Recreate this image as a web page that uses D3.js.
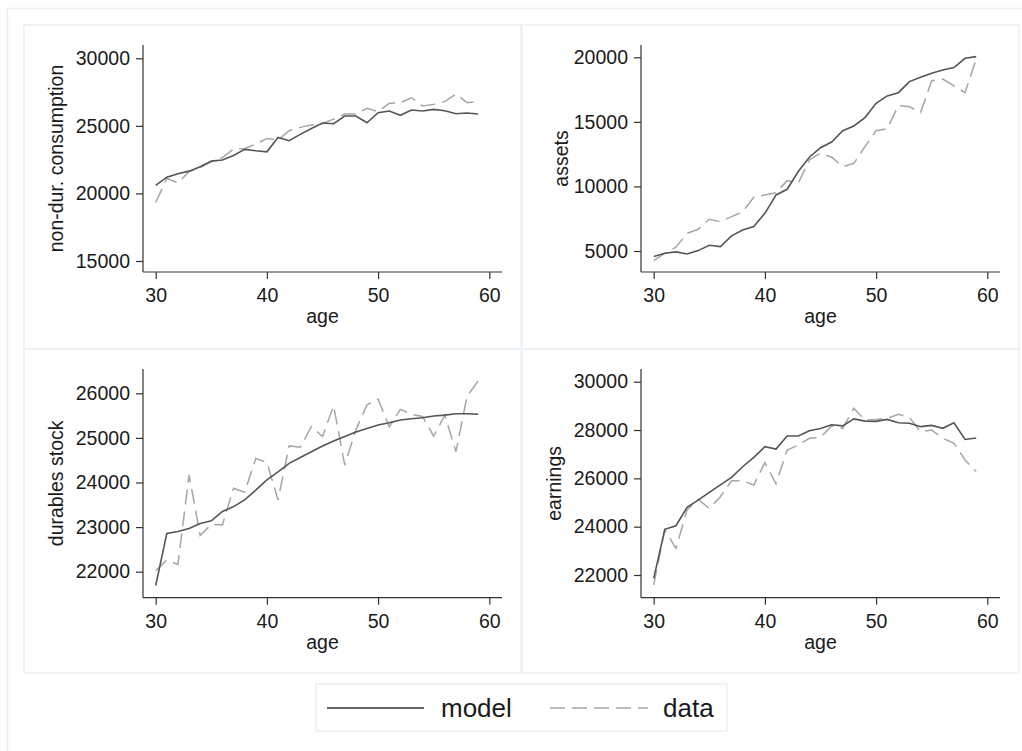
<!DOCTYPE html>
<html>
<head>
<meta charset="utf-8">
<script src="https://cdn.jsdelivr.net/npm/d3@7"></script>
<style>
  html, body { margin: 0; padding: 0; background: #ffffff; }
  svg { display: block; font-family: "Liberation Sans", Arial, sans-serif; }
</style>
</head>
<body>
<svg id="chart" width="1022" height="751"></svg>
<script>
// Life-cycle profiles by age: model vs data
const ages = d3.range(30, 60);
const xTicks = [30, 40, 50, 60];

const consumptionModel = [20600, 21200, 21450, 21650, 21970, 22390, 22470, 22810, 23260, 23160,
  23080, 24140, 23900, 24370, 24810, 25210, 25160, 25730, 25730, 25230,
  25970, 26100, 25780, 26170, 26100, 26220, 26120, 25900, 25950, 25880];
const consumptionData = [19330, 21110, 20790, 21600, 21920, 22340, 22660, 23280, 23330, 23650,
  24070, 23950, 24640, 24890, 25060, 25180, 25500, 25870, 25870, 26300,
  26050, 26670, 26720, 27080, 26470, 26590, 26790, 27360, 26720, 26790];

const assetsModel = [4570, 4820, 4930, 4770, 5030, 5440, 5340, 6170, 6630, 6890,
  7920, 9340, 9780, 11150, 12260, 13000, 13440, 14320, 14680, 15330,
  16440, 17010, 17260, 18120, 18450, 18760, 19020, 19200, 19920, 20050];
const assetsData = [4260, 4820, 5290, 6370, 6680, 7460, 7280, 7660, 8050, 9160,
  9340, 9520, 10450, 10240, 12050, 12570, 12260, 11530, 11790, 13080,
  14320, 14480, 16260, 16180, 15720, 18190, 18320, 17780, 17260, 19870];

const durablesModel = [21690, 22860, 22900, 22970, 23080, 23140, 23350, 23460, 23610, 23830,
  24060, 24240, 24430, 24560, 24690, 24820, 24930, 25030, 25130, 25210,
  25290, 25340, 25400, 25430, 25450, 25490, 25510, 25540, 25540, 25530];
const durablesData = [22020, 22260, 22160, 24170, 22810, 23060, 23050, 23870, 23780, 24540,
  24450, 23610, 24820, 24790, 25250, 25030, 25720, 24390, 25180, 25740,
  25870, 25250, 25640, 25530, 25480, 25040, 25510, 24690, 25930, 26280];

const earningsModel = [21860, 23890, 24040, 24800, 25100, 25420, 25730, 26040, 26480, 26870,
  27310, 27210, 27750, 27750, 27970, 28060, 28220, 28170, 28460, 28370,
  28360, 28440, 28300, 28280, 28140, 28190, 28070, 28300, 27610, 27670];
const earningsData = [21590, 23870, 23100, 24690, 25130, 24760, 25240, 25900, 25900, 25720,
  26650, 25770, 27170, 27380, 27660, 27700, 28170, 28070, 28900, 28410,
  28440, 28480, 28650, 28520, 27930, 28000, 27660, 27450, 26760, 26280];

const consumptionTicks = [15000, 20000, 25000, 30000];
const assetsTicks = [5000, 10000, 15000, 20000];
const durablesTicks = [22000, 23000, 24000, 25000, 26000];
const earningsTicks = [22000, 24000, 26000, 28000, 30000];

const seriesNames = ["model", "data"];

// panel layout: column/row, where first and last y ticks sit, y-title offset from axis
const panels = [
  { label: "non-dur. consumption", model: consumptionModel, data: consumptionData, ticks: consumptionTicks, col: 0, row: 0, yLo: 261, yHi: 58.3, titleDx: 80 },
  { label: "assets", model: assetsModel, data: assetsData, ticks: assetsTicks, col: 1, row: 0, yLo: 251, yHi: 57.3, titleDx: 73 },
  { label: "durables stock", model: durablesModel, data: durablesData, ticks: durablesTicks, col: 0, row: 1, yLo: 571.7, yHi: 393.3, titleDx: 80 },
  { label: "earnings", model: earningsModel, data: earningsData, ticks: earningsTicks, col: 1, row: 1, yLo: 575, yHi: 381.7, titleDx: 80 }
];

const svg = d3.select("#chart");
const frameColor = "#eaf0f3";
const axisColor = "#333333";
const textColor = "#1a1a1a";
const modelColor = "#555555";
const dataColor = "#a6a6a6";
const dash = "15,7";

// outer frame
svg.append("rect").attr("x", 7.5).attr("y", 8.5).attr("width", 1030).attr("height", 760)
  .attr("fill", "none").attr("stroke", frameColor).attr("stroke-width", 1.5);

const colX = [24, 522];
const rowY = [25, 349];
const panelW = 497, panelH = 324;

panels.forEach(p => {
  const px = colX[p.col], py = rowY[p.row];
  svg.append("rect").attr("x", px).attr("y", py).attr("width", panelW).attr("height", panelH)
    .attr("fill", "none").attr("stroke", frameColor).attr("stroke-width", 1.5);

  const axisX = px + 119;
  const axisRight = axisX + 359;
  const axisBottom = py + (p.row === 0 ? 247 : 248.7);
  const axisTop = py + 20;

  const x = d3.scaleLinear().domain([30, 60]).range([axisX + 12.7, axisRight - 12.7]);
  const y = d3.scaleLinear().domain([p.ticks[0], p.ticks[p.ticks.length - 1]]).range([p.yLo, p.yHi]);

  const g = svg.append("g");

  // y axis
  const yAxis = d3.axisLeft(y).tickValues(p.ticks).tickSize(7).tickPadding(6).tickFormat(d3.format("d"));
  const gy = g.append("g").attr("transform", `translate(${axisX},0)`).call(yAxis);
  gy.select(".domain").attr("d", `M-0,${axisTop}V${axisBottom}`);

  // x axis
  const xAxis = d3.axisBottom(x).tickValues(xTicks).tickSize(7).tickPadding(9).tickFormat(d3.format("d"));
  const gx = g.append("g").attr("transform", `translate(0,${axisBottom})`).call(xAxis);
  gx.select(".domain").attr("d", `M${axisX},0H${axisRight}`);

  [gx, gy].forEach(a => {
    a.selectAll(".domain").attr("stroke", axisColor).attr("stroke-width", 1.2);
    a.selectAll(".tick line").attr("stroke", axisColor).attr("stroke-width", 1.2);
    a.selectAll(".tick text").attr("fill", textColor).style("font-size", "19.5px")
      .style("font-family", "'Liberation Sans', Arial, sans-serif");
  });

  // axis titles
  g.append("text").attr("x", (axisX + axisRight) / 2).attr("y", axisBottom + 51)
    .attr("text-anchor", "middle").attr("fill", textColor).style("font-size", "19.5px").text("age");
  g.append("text")
    .attr("transform", `translate(${axisX - p.titleDx},${(axisTop + axisBottom) / 2}) rotate(-90)`)
    .attr("text-anchor", "middle").attr("fill", textColor).style("font-size", "19.5px").text(p.label);

  const line = d3.line().x((d, i) => x(ages[i])).y(d => y(d));

  g.append("path").datum(p.data).attr("d", line).attr("fill", "none")
    .attr("stroke", dataColor).attr("stroke-width", 1.5).attr("stroke-dasharray", dash);
  g.append("path").datum(p.model).attr("d", line).attr("fill", "none")
    .attr("stroke", modelColor).attr("stroke-width", 1.6);
});

// legend
const leg = svg.append("g");
leg.append("rect").attr("x", 316).attr("y", 684).attr("width", 411).attr("height", 47)
  .attr("fill", "#ffffff").attr("stroke", frameColor).attr("stroke-width", 1.5);
const legItems = [
  { name: seriesNames[0], x0: 327, x1: 424, tx: 441, color: "#333333", dash: null },
  { name: seriesNames[1], x0: 550, x1: 648, tx: 663, color: dataColor, dash: dash }
];
legItems.forEach(it => {
  const l = leg.append("line").attr("x1", it.x0).attr("x2", it.x1).attr("y1", 708).attr("y2", 708)
    .attr("stroke", it.color).attr("stroke-width", 1.5);
  if (it.dash) l.attr("stroke-dasharray", it.dash);
  leg.append("text").attr("x", it.tx).attr("y", 717).attr("fill", textColor)
    .style("font-size", "26px").text(it.name);
});
</script>
</body>
</html>
